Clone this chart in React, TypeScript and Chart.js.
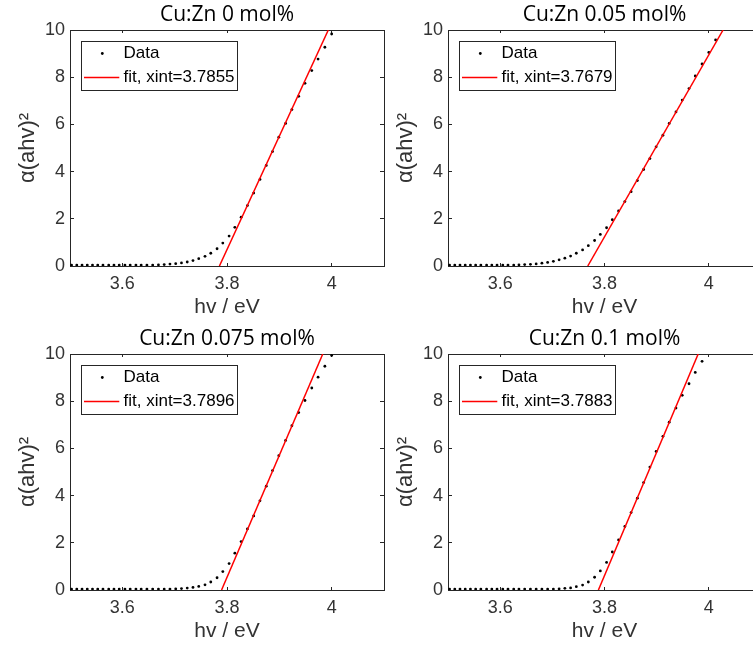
import React, { useEffect, useRef } from 'react';
import { Chart, registerables } from 'chart.js';

Chart.register(...registerables);

// ---------- data ----------
const hv = [
  3.503, 3.513, 3.523, 3.533, 3.543, 3.553, 3.563, 3.574, 3.584, 3.594,
  3.605, 3.615, 3.626, 3.636, 3.647, 3.658, 3.669, 3.680, 3.691, 3.702,
  3.713, 3.724, 3.735, 3.746, 3.758, 3.769, 3.781, 3.792, 3.804, 3.815,
  3.827, 3.839, 3.851, 3.863, 3.875, 3.887, 3.899, 3.912, 3.924, 3.937,
  3.949, 3.962, 3.974, 3.987, 4.000, 4.013,
];

const alpha0 = [
  0.04, 0.04, 0.04, 0.04, 0.04, 0.04, 0.04, 0.04, 0.04, 0.04,
  0.04, 0.04, 0.04, 0.04, 0.04, 0.04, 0.05, 0.06, 0.08, 0.10,
  0.13, 0.17, 0.23, 0.31, 0.41, 0.54, 0.73, 0.97, 1.27, 1.64,
  2.07, 2.56, 3.09, 3.67, 4.26, 4.85, 5.46, 6.04, 6.63, 7.19,
  7.74, 8.28, 8.77, 9.27, 9.83, null,
];

const alpha005 = [
  0.04, 0.04, 0.04, 0.04, 0.04, 0.04, 0.04, 0.04, 0.04, 0.04,
  0.04, 0.04, 0.04, 0.05, 0.06, 0.07, 0.09, 0.12, 0.15, 0.20,
  0.26, 0.33, 0.42, 0.54, 0.68, 0.86, 1.08, 1.34, 1.62, 1.96,
  2.33, 2.73, 3.15, 3.62, 4.09, 4.55, 5.05, 5.54, 6.04, 6.53,
  7.03, 7.52, 8.05, 8.56, 9.05, 9.58,
];

const alpha0075 = [
  0.04, 0.04, 0.04, 0.04, 0.04, 0.04, 0.04, 0.04, 0.04, 0.04,
  0.04, 0.04, 0.04, 0.04, 0.04, 0.04, 0.04, 0.04, 0.04, 0.05,
  0.06, 0.08, 0.11, 0.15, 0.22, 0.34, 0.52, 0.78, 1.12, 1.56,
  2.05, 2.59, 3.14, 3.78, 4.40, 5.06, 5.69, 6.34, 6.96, 7.52,
  8.03, 8.56, 9.02, 9.48, 9.94, null,
];

const alpha01 = [
  0.04, 0.04, 0.04, 0.04, 0.04, 0.04, 0.04, 0.04, 0.04, 0.04,
  0.04, 0.04, 0.04, 0.04, 0.04, 0.04, 0.04, 0.04, 0.04, 0.04,
  0.05, 0.07, 0.09, 0.14, 0.21, 0.34, 0.54, 0.81, 1.17, 1.61,
  2.12, 2.69, 3.28, 3.89, 4.55, 5.21, 5.87, 6.51, 7.11, 7.71,
  8.25, 8.74, 9.22, 9.69, null, null,
];

const seriesAlpha = [alpha0, alpha005, alpha0075, alpha01];
const panelTitles = ['Cu:Zn 0 mol%', 'Cu:Zn 0.05 mol%', 'Cu:Zn 0.075 mol%', 'Cu:Zn 0.1 mol%'];
const xIntercepts = [3.7855, 3.7679, 3.7896, 3.7883];
const fitTopHv = [3.9936, 4.0273, 3.983, 3.9796];
const fitAlpha = [0, 10];
const xTicks = [3.6, 3.8, 4.0];
const yTicks = [0, 2, 4, 6, 8, 10];
const xRange = [3.5, 4.1];
const yRange = [0, 10];
const xLabel = 'hv / eV';
const yLabel = 'α(ahv)²';
const dataLabel = 'Data';

// ---------- layout / style ----------
const CW = 390;
const CH = 326;
const panelBoxes = [
  { left: 0, top: 0, padRight: 6 },
  { left: 378, top: 0, padRight: 7 },
  { left: 0, top: 324, padRight: 6 },
  { left: 378, top: 324, padRight: 7 },
];
const axisColor = '#262626';
const textColor = '#333333';
const sans = "'Liberation Sans', Arial, sans-serif";

function makeDotImage(): HTMLCanvasElement {
  const c = document.createElement('canvas');
  c.width = 16;
  c.height = 5;
  const g = c.getContext('2d')!;
  g.fillStyle = '#000';
  g.beginPath();
  g.arc(14.3, 2.5, 1.4, 0, Math.PI * 2);
  g.fill();
  return c;
}

function makeLineImage(): HTMLCanvasElement {
  const c = document.createElement('canvas');
  c.width = 48;
  c.height = 5;
  const g = c.getContext('2d')!;
  g.strokeStyle = '#ff0000';
  g.lineWidth = 1.5;
  g.beginPath();
  g.moveTo(12, 2.5);
  g.lineTo(47.3, 2.5);
  g.stroke();
  return c;
}

const legendBoxPlugin = {
  id: 'legendBox',
  afterDraw(chart: any) {
    const lg = chart.legend;
    if (!lg || !lg.legendHitBoxes || !lg.legendHitBoxes.length) return;
    const hbs = lg.legendHitBoxes;
    const first = hbs[0];
    const last = hbs[hbs.length - 1];
    const right = Math.max(...hbs.map((h: any) => h.left + h.width));
    const x0 = Math.round(first.left + 3.5) + 0.5;
    const y0 = Math.round(first.top - 4.5) + 0.5;
    const x1 = Math.round(right + 2) + 0.5;
    const y1 = Math.round(last.top + last.height + 3.5) + 0.5;
    const ctx = chart.ctx;
    ctx.save();
    ctx.strokeStyle = axisColor;
    ctx.lineWidth = 1;
    ctx.strokeRect(x0, y0, x1 - x0, y1 - y0);
    ctx.restore();
  },
};

function tickGrid(len: number) {
  return {
    display: true,
    drawOnChartArea: false,
    drawTicks: true,
    tickLength: len,
    color: axisColor,
    lineWidth: 1,
  };
}

function PanelChart({ index }: { index: number }) {
  const ref = useRef<HTMLCanvasElement>(null);
  const box = panelBoxes[index];

  useEffect(() => {
    if (!ref.current) return;
    const dotImg = makeDotImage();
    const lineImg = makeLineImage();
    const alpha = seriesAlpha[index];
    const points = hv.map((x, i) => ({ x, y: alpha[i] }));
    const fitPoints = [
      { x: xIntercepts[index], y: fitAlpha[0] },
      { x: fitTopHv[index], y: fitAlpha[1] },
    ];
    const setX = (s: any) => { s.ticks = xTicks.map((v) => ({ value: v })); };
    const setY = (s: any) => { s.ticks = yTicks.map((v) => ({ value: v })); };

    const chart = new Chart(ref.current, {
      type: 'scatter',
      data: {
        datasets: [
          {
            label: dataLabel,
            data: points as any,
            pointStyle: 'circle',
            pointRadius: 1.4,
            pointBackgroundColor: '#000',
            pointBorderWidth: 0,
            showLine: false,
            order: 1,
          },
          {
            label: 'fit',
            data: fitPoints,
            showLine: true,
            borderColor: '#ff0000',
            borderWidth: 1.5,
            pointRadius: 0,
            fill: false,
            order: 0,
          },
        ],
      },
      options: {
        animation: false,
        responsive: false,
        devicePixelRatio: 1,
        events: [],
        layout: { padding: { left: 0, right: box.padRight, top: 0, bottom: 0 } },
        scales: {
          x: {
            type: 'linear',
            position: 'bottom',
            min: xRange[0],
            max: xRange[1],
            afterBuildTicks: setX,
            ticks: {
              color: textColor,
              font: { family: sans, size: 18 },
              padding: 10,
              maxRotation: 0,
              autoSkip: false,
              callback: (v: any) => String(v),
            },
            grid: tickGrid(-3),
            border: { display: true, color: axisColor, width: 1 },
            title: {
              display: true,
              text: xLabel,
              color: textColor,
              font: { family: sans, size: 21 },
              padding: { top: 0, bottom: 6 },
            },
            afterFit: (s: any) => { s.height = 60; },
          },
          x2: {
            type: 'linear',
            position: 'top',
            display: true,
            min: xRange[0],
            max: xRange[1],
            afterBuildTicks: setX,
            ticks: { display: false },
            grid: tickGrid(-3),
            border: { display: true, color: axisColor, width: 1 },
            afterFit: (s: any) => { s.height = 0; },
          },
          y: {
            type: 'linear',
            position: 'left',
            min: yRange[0],
            max: yRange[1],
            afterBuildTicks: setY,
            ticks: {
              color: textColor,
              font: { family: sans, size: 18 },
              padding: 9,
              autoSkip: false,
              callback: (v: any) => String(v),
            },
            grid: tickGrid(-4),
            border: { display: true, color: axisColor, width: 1 },
            title: {
              display: true,
              text: yLabel,
              color: textColor,
              font: { family: sans, size: 22 },
              padding: { top: 15, bottom: 0 },
            },
            afterFit: (s: any) => { s.width = 70; },
          },
          y2: {
            type: 'linear',
            position: 'right',
            display: true,
            min: yRange[0],
            max: yRange[1],
            afterBuildTicks: setY,
            ticks: { display: false },
            grid: tickGrid(-4),
            border: { display: true, color: axisColor, width: 1 },
            afterFit: (s: any) => { s.width = 0; },
          },
        } as any,
        plugins: {
          title: {
            display: true,
            text: panelTitles[index],
            fullSize: false,
            color: '#000',
            font: { family: "'Open Sans', 'Noto Sans', sans-serif", size: 21, weight: 'normal', lineHeight: 1.2 },
            padding: { top: 2.4, bottom: 2.4 },
          },
          legend: {
            display: true,
            position: 'chartArea',
            align: 'start',
            title: { display: true, text: '', font: { size: 38, lineHeight: 1 }, padding: 0 },
            labels: {
              usePointStyle: true,
              pointStyleWidth: 38,
              boxHeight: 17,
              padding: 7,
              color: '#000',
              font: { family: sans, size: 17 },
              generateLabels: () => [
                {
                  text: dataLabel,
                  pointStyle: dotImg,
                  fillStyle: '#000',
                  strokeStyle: '#000',
                  lineWidth: 0,
                  hidden: false,
                  datasetIndex: 0,
                  fontColor: '#000',
                },
                {
                  text: `fit, xint=${xIntercepts[index].toFixed(4)}`,
                  pointStyle: lineImg,
                  fillStyle: '#ff0000',
                  strokeStyle: '#ff0000',
                  lineWidth: 0,
                  hidden: false,
                  datasetIndex: 1,
                  fontColor: '#000',
                },
              ] as any,
            },
          } as any,
          tooltip: { enabled: false },
        },
      },
      plugins: [legendBoxPlugin],
    });
    return () => chart.destroy();
  }, [index]);

  return (
    <canvas
      ref={ref}
      width={CW}
      height={CH}
      style={{ position: 'absolute', left: box.left, top: box.top, width: CW, height: CH }}
    />
  );
}

export default function App() {
  return (
    <div
      style={{
        position: 'fixed',
        left: 0,
        top: 0,
        width: 753,
        height: 654,
        overflow: 'hidden',
        background: '#ffffff',
      }}
    >
      {panelTitles.map((_, i) => (
        <PanelChart key={i} index={i} />
      ))}
    </div>
  );
}
